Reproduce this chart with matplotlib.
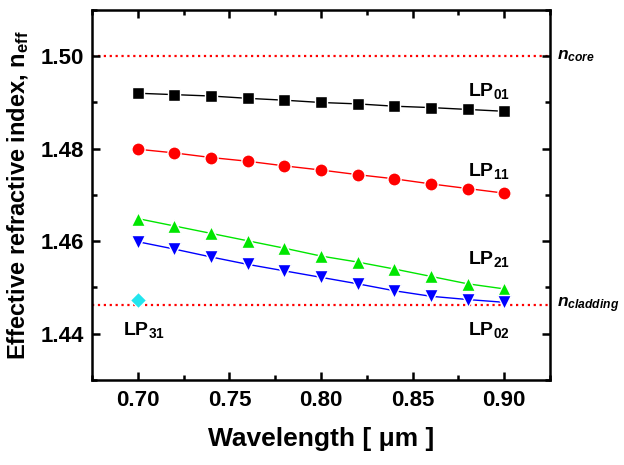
import numpy as np
import matplotlib
matplotlib.use("Agg")
import matplotlib.pyplot as plt
from matplotlib.ticker import MultipleLocator, FormatStrFormatter

plt.rcParams['font.family'] = ['Liberation Sans', 'DejaVu Sans']
plt.rcParams['font.weight'] = 'bold'
plt.rcParams['mathtext.fontset'] = 'custom'
plt.rcParams['mathtext.rm'] = 'Liberation Sans:bold'
plt.rcParams['mathtext.it'] = 'Liberation Sans:bold:italic'
plt.rcParams['mathtext.bf'] = 'Liberation Sans:bold'

# --- data ---
wavelength = [0.70, 0.72, 0.74, 0.76, 0.78, 0.80, 0.82, 0.84, 0.86, 0.88, 0.90]
lp01 = [1.4920, 1.4917, 1.4914, 1.4909, 1.4905, 1.4900, 1.4897, 1.4892, 1.4889, 1.4885, 1.4881]
lp11 = [1.4799, 1.4791, 1.4781, 1.4773, 1.4763, 1.4754, 1.4744, 1.4735, 1.4724, 1.4714, 1.4704]
lp21 = [1.4649, 1.4633, 1.4617, 1.4601, 1.4585, 1.4568, 1.4555, 1.4540, 1.4524, 1.4508, 1.4497]
lp02 = [1.4599, 1.4583, 1.4566, 1.4550, 1.4536, 1.4522, 1.4508, 1.4493, 1.4481, 1.4474, 1.4468]
lp31_x = [0.70]
lp31 = [1.4472]
n_core = 1.500
n_cladding = 1.4462

fig = plt.figure(figsize=(6.24, 4.65), dpi=100)
ax = fig.add_axes([0.1474, 0.1828, 0.734, 0.7957])

# reference index lines
ax.axhline(n_core, color='#ff0000', ls=':', lw=1.6, zorder=1)
ax.axhline(n_cladding, color='#ff0000', ls=':', lw=1.6, zorder=1)

series = [
    (lp01, 'black', 's', 8),
    (lp11, '#ff0000', 'o', 9.5),
    (lp21, '#00e600', '^', 10.5),
    (lp02, '#0000ff', 'v', 10.5),
]
for vals, col, mk, ms in series:
    ax.plot(wavelength, vals, color=col, lw=1.0, marker=mk, ms=ms,
            mec='white', mew=1.0, mfc=col, zorder=3)
ax.plot(lp31_x, lp31, ls='none', marker='D', ms=8, color='#22e5ee',
        mec='white', mew=0.8, zorder=3)

# mode labels
lab_kw = dict(fontsize=14, fontweight='bold')
ax.text(0.880, 1.4914, r'LP$_{\mathrm{01}}$', **lab_kw)
ax.text(0.880, 1.4740, r'LP$_{\mathrm{11}}$', **lab_kw)
ax.text(0.880, 1.4551, r'LP$_{\mathrm{21}}$', **lab_kw)
ax.text(0.880, 1.4397, r'LP$_{\mathrm{02}}$', **lab_kw)
ax.text(0.692, 1.4397, r'LP$_{\mathrm{31}}$', **lab_kw)

ax.text(1.016, n_core, r'$n_{core}$', transform=ax.get_yaxis_transform(),
        fontsize=12.5, va='center', ha='left')
ax.text(1.016, n_cladding, r'$n_{cladding}$', transform=ax.get_yaxis_transform(),
        fontsize=12.5, va='center', ha='left')

ax.set_xlim(0.675, 0.925)
ax.set_ylim(1.43, 1.51)
ax.xaxis.set_major_locator(MultipleLocator(0.05))
ax.xaxis.set_minor_locator(MultipleLocator(0.025))
ax.yaxis.set_major_locator(MultipleLocator(0.02))
ax.yaxis.set_minor_locator(MultipleLocator(0.01))
ax.xaxis.set_major_formatter(FormatStrFormatter('%.2f'))
ax.yaxis.set_major_formatter(FormatStrFormatter('%.2f'))

ax.tick_params(which='both', direction='in', top=True, right=True, width=1.8)
ax.tick_params(which='major', length=6, labelsize=16, pad=7)
ax.tick_params(which='minor', length=3.5)
ax.tick_params(axis='y', which='major', pad=6)
for lab in ax.get_xticklabels() + ax.get_yticklabels():
    lab.set_fontweight('bold')
for sp in ax.spines.values():
    sp.set_linewidth(1.8)

ax.set_xlabel('Wavelength [ μm ]', fontsize=19, fontweight='bold', labelpad=12)
ax.set_ylabel(r'Effective refractive index, n$_{\mathrm{eff}}$', fontsize=17,
              fontweight='bold', labelpad=7)

fig.savefig('out.png', dpi=100)
